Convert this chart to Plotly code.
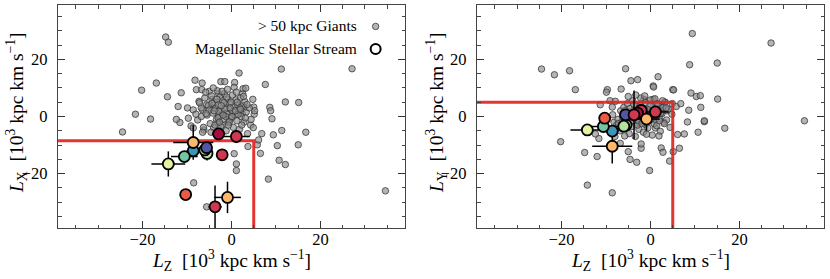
import plotly.graph_objects as go

# ---------------- data ----------------
# >50 kpc giants: (Lz, Lx, Ly) in 10^3 kpc km/s
giant_lz = [34.6, 27.1, -24.5, -21.6, -20.2, -18.2, -16.9, -14.8, -14.2, -14.4,
            -12.0, -11.3, -11.6, -12.4, -9.7, -9.9, -9.1, -8.6, -8.5, -8.6,
            -8.2, -7.9, -7.6, -7.3, -6.8, -6.6, -6.7, -6.5, -6.2, -5.6,
            -5.6, -5.0, -4.6, -4.4, -3.1, -2.9, -2.4, -2.1, -2.1, -1.5,
            -0.2, 0.6, 0.7, 0.6, 1.1, 1.1, 1.7, 2.4, 2.5, 2.6,
            2.8, 3.2, 3.7, 4.3, 4.9, 5.0, 5.1, 5.2, 5.8, 6.1,
            6.5, 6.8, 7.6, 8.3, 8.6, 8.8, 9.1, 9.4, 10.3, 10.7,
            11.2, 11.3, 12.1, 12.1, 15.0, 15.1, 16.7,
            -6.0, -5.5, -5.2, -4.8, -4.5, -4.2, -4.0, -3.8, -3.6, -3.4,
            -3.2, -3.0, -2.8, -2.6, -2.4, -2.2, -2.0, -1.8, -1.6, -1.4,
            -1.2, -1.0, -0.8, -0.6, -0.4, -0.2, 0.0, 0.2, 0.4, 0.6,
            0.8, 1.0, 1.2, 1.4, 1.6, 1.8, 2.0, 2.2, 2.5, 2.8,
            3.0, 3.3, 3.6, 4.0, 4.4, 4.8,
            -6.8, -6.3, -5.8, -5.0, -4.6, -4.1, -3.7, -3.3, -2.9, -2.5,
            -2.1, -1.7, -1.3, -0.9, -0.5, -0.1, 0.3, 0.7, 1.1, 1.5,
            1.9, 2.3, 2.7, 3.1, 3.5, -4.4, -3.0, -1.5, -0.3, 0.9,
            -2.3, -1.1, 0.1, 1.3, -3.9, -0.7, 2.0, -2.7, -1.9, -6.5,
            -5.7, -7.2, -8.0]
giant_lx = [-26.0, 16.7, -5.4, 0.8, 9.2, -0.9, 11.7, 27.8, 26.0, 6.9,
            3.5, 8.3, -2.1, -1.0, -0.6, 3.0, -3.3, 2.3, -23.2, -4.0,
            12.7, 9.4, -1.2, 5.3, 0.0, 11.7, 9.4, 2.3, -4.7, 4.1,
            -31.6, 8.8, 3.0, 6.0, -2.0, 8.0, 12.2, -3.0, 1.0, 12.2,
            0.0, -13.0, 11.9, 10.2, -16.6, -18.9, 15.2, 1.0, 8.0, 9.7,
            3.0, 9.9, -10.5, -3.0, -3.9, 3.3, 0.8, 2.0, -9.9, -8.2,
            -12.9, -6.0, 11.2, -21.9, 3.2, 2.0, -0.8, -6.4, -10.2, -15.3,
            16.6, -4.9, 5.1, -16.8, -9.9, 4.9, -5.5,
            6.5, 0.5, 3.8, -2.5, 7.2, 1.2, -4.0, 5.0, 2.8, -1.0,
            9.0, 4.2, 0.2, 6.8, -3.5, 2.0, 5.5, -0.8, 8.0, 3.2,
            -5.0, 1.0, 6.0, -2.2, 4.5, 2.5, -0.5, 7.5, -3.8, 3.5,
            0.5, 5.8, -1.5, 4.0, 2.0, -4.5, 6.5, 0.0, 3.8, -2.0,
            5.2, 1.5, -6.0, 3.0, -1.0, 6.0,
            3.0, -3.8, 8.5, 2.2, -5.5, 10.0, -3.0, 6.0, 1.8, -6.5,
            8.8, 4.8, 0.0, 9.5, -1.8, 5.0, 1.8, -6.2, 8.5, 0.8,
            3.0, -3.0, 7.0, -0.5, 4.2, 4.6, -0.5, 2.5, 3.0, 2.0,
            3.8, 6.8, 0.0, 5.0, 2.0, -3.0, 2.5, -2.0, 0.5, -5.5,
            1.0, 4.8, 0.8]
giant_ly = [-1.5, 25.7, 16.6, 14.6, -8.8, 16.0, 9.4, -12.6, -24.0, -4.6,
            -14.0, 4.1, -7.7, -6.1, 9.4, 8.5, 5.5, 3.3, 0.6, -26.7,
            -2.0, 5.3, -3.0, -1.0, -9.4, 9.6, 2.0, -2.0, 1.0, 16.7,
            -3.0, -12.3, -15.0, 12.5, -16.0, 12.9, 4.0, -11.1, -9.6, 6.0,
            -18.9, 10.7, 10.3, 6.0, -4.0, 3.0, 13.9, -11.0, 4.0, 1.0,
            -12.5, 5.0, 2.0, -15.6, 4.5, 9.4, -12.3, 9.3, 3.5, -6.3,
            -11.1, 4.5, -6.1, -1.9, 2.2, 18.1, 8.2, 29.0, 7.0, -5.5,
            7.3, 3.2, -1.8, -1.5, 18.7, 6.1, -4.1,
            3.2, -1.2, 4.5, -6.0, 1.8, -3.5, 5.5, -0.5, 2.5, -7.0,
            3.8, -2.2, 0.8, -4.5, 2.0, 6.5, -1.0, 3.0, -5.5, 1.5,
            -2.8, 4.8, 0.2, -4.0, 2.2, -1.5, 5.8, 1.2, -6.5, 3.5,
            -2.5, 6.2, 0.5, -3.2, 2.8, 4.0, -0.8, -5.2, 1.8, 3.2,
            -2.0, 5.0, -1.2, 2.5, -3.8, 0.8,
            -5.0, 0.0, -6.8, 7.0, 2.8, -1.8, 4.2, 7.5, -3.0, 0.0,
            2.6, -2.0, 7.2, -6.2, 1.0, 3.8, -0.2, 2.0, -1.0, 4.5,
            -6.8, 1.2, 5.5, -2.5, 3.0, 0.0, 1.5, -0.5, 0.5, 1.5,
            3.0, 1.8, -1.0, 0.0, -1.5, 2.5, -1.5, -1.5, -2.5, -4.0,
            2.0, -2.5, -7.0]

# Magellanic Stellar Stream members
mss_lz = [-8.6, -10.6, -14.2, -5.5, -6.0, -5.6, -2.1, -2.9, 1.1, -10.3, -0.9, -3.7, -8.6]
mss_lx = [-12.0, -14.0, -16.6, -12.9, -11.7, -10.9, -13.4, -6.1, -7.0, -27.3, -28.3, -31.6, -9.1]
mss_ly = [-5.1, -3.5, -4.7, -3.0, -3.4, 0.6, 2.1, 1.2, 1.6, -0.6, -0.9, 0.6, -10.4]
mss_elz = [1.5, 3.0, 3.8, 1.0, 1.5, 1.0, 1.0, 1.5, 3.0, 1.0, 3.0, 1.5, 4.5]
mss_elx = [1.5, 1.5, 4.4, 2.5, 2.5, 1.5, 1.0, 1.0, 2.3, 1.4, 5.5, 7.5, 6.0]
mss_ely = [1.5, 1.5, 1.0, 1.0, 1.5, 1.0, 1.0, 1.0, 1.0, 1.0, 4.0, 8.5, 6.0]
mss_color = ["#3d95b8", "#72c6a4", "#e3f4a0", "#b6e2a0", "#b6e2a0", "#5256a5",
             "#d03850", "#a3103f", "#d03850", "#ea5a45", "#fdb96a", "#d03850", "#fdb96a"]

# selection cuts
LZ_CUT = 5.0
LX_CUT = -8.5
LY_CUT = 5.0
AX_MIN, AX_MAX = -39, 39

W, H = 830, 279
FONT = "Liberation Serif"

fig = go.Figure()

panels = [("x", "y", giant_lx, mss_lx, mss_elx, LX_CUT),
          ("x2", "y2", giant_ly, mss_ly, mss_ely, LY_CUT)]

for xa, ya, gy, my, mey, cut in panels:
    fig.add_trace(go.Scatter(
        x=giant_lz, y=gy, mode="markers", xaxis=xa, yaxis=ya, showlegend=False,
        marker=dict(size=6.5, color="rgba(140,140,140,0.65)",
                    line=dict(color="rgba(50,50,50,0.75)", width=1)),
        hoverinfo="skip"))
    fig.add_trace(go.Scatter(
        x=[AX_MIN, LZ_CUT, LZ_CUT], y=[cut, cut, AX_MIN], mode="lines",
        xaxis=xa, yaxis=ya, showlegend=False,
        line=dict(color="rgba(226,35,35,0.92)", width=3), hoverinfo="skip"))
    fig.add_trace(go.Scatter(
        x=mss_lz, y=my, mode="markers", xaxis=xa, yaxis=ya, showlegend=False,
        marker=dict(size=0.1, color="black", opacity=0),
        error_x=dict(type="data", array=mss_elz, color="black", thickness=1.5, width=0),
        error_y=dict(type="data", array=mey, color="black", thickness=1.5, width=0),
        hoverinfo="skip"))
    fig.add_trace(go.Scatter(
        x=mss_lz, y=my, mode="markers", xaxis=xa, yaxis=ya, showlegend=False,
        marker=dict(size=11, color=mss_color, line=dict(color="black", width=1.8)),
        hoverinfo="skip"))

# legend (markers after text, as in the original)
LEG_X = 32.4
fig.add_trace(go.Scatter(x=[LEG_X], y=[31.5], mode="markers", xaxis="x", yaxis="y",
                         showlegend=False, hoverinfo="skip",
                         marker=dict(size=6.5, color="rgba(140,140,140,0.65)",
                                     line=dict(color="rgba(50,50,50,0.75)", width=1))))
fig.add_trace(go.Scatter(x=[LEG_X], y=[23.6], mode="markers", xaxis="x", yaxis="y",
                         showlegend=False, hoverinfo="skip",
                         marker=dict(size=10, color="white",
                                     line=dict(color="black", width=2))))

def axis_common(domain, anchor):
    return dict(
        domain=domain, anchor=anchor, range=[AX_MIN, AX_MAX],
        tick0=0, dtick=20, ticks="inside", ticklen=7, tickwidth=1.1, tickcolor="#333",
        minor=dict(tick0=0, dtick=5, ticks="inside", ticklen=3.5, tickwidth=0.9, tickcolor="#333"),
        showline=True, linecolor="#444", linewidth=1.3, mirror="ticks",
        showgrid=False, zeroline=False,
        tickfont=dict(family=FONT, size=16.5, color="black"),
    )

ydom = [1 - 228 / H, 1 - 5 / H]
fig.update_layout(
    width=W, height=H, autosize=False,
    margin=dict(l=0, r=0, t=0, b=0),
    paper_bgcolor="white", plot_bgcolor="white",
    xaxis=axis_common([58 / W, 405 / W], "y"),
    yaxis=axis_common(ydom, "x"),
    xaxis2=axis_common([477 / W, 824 / W], "y2"),
    yaxis2=axis_common(ydom, "x2"),
)
fig.update_xaxes(ticklabelstandoff=-4)
fig.update_yaxes(ticklabelstandoff=6)

unit = "&nbsp;&nbsp;[10<sup>3</sup>&nbsp;kpc&nbsp;km&nbsp;s<sup>−1</sup>]"
tfont = dict(family=FONT, size=19.5, color="black")
ann = [
    dict(x=231.5 / W, y=1 - 260 / H, text="<i>L</i><sub>Z</sub>" + unit),
    dict(x=650.5 / W, y=1 - 260 / H, text="<i>L</i><sub>Z</sub>" + unit),
    dict(x=17 / W, y=1 - 113 / H, text="<i>L</i><sub>X</sub>" + unit, textangle=-90),
    dict(x=437 / W, y=1 - 113 / H, text="<i>L</i><sub>Y</sub>" + unit, textangle=-90),
]
for a in ann:
    fig.add_annotation(xref="paper", yref="paper", xanchor="center", yanchor="middle",
                       showarrow=False, font=tfont, **a)

lfont = dict(family=FONT, size=15.5, color="black")
fig.add_annotation(xref="paper", yref="paper", x=359 / W, y=1 - 26 / H, xanchor="right",
                   yanchor="middle", showarrow=False, font=lfont, text="> 50 kpc Giants")
fig.add_annotation(xref="paper", yref="paper", x=359 / W, y=1 - 48 / H, xanchor="right",
                   yanchor="middle", showarrow=False, font=lfont, text="Magellanic Stellar Stream")

fig.write_html("out.html", config={"displayModeBar": False, "staticPlot": True},
               post_script="document.body.style.margin='0';document.body.style.overflow='hidden';")
